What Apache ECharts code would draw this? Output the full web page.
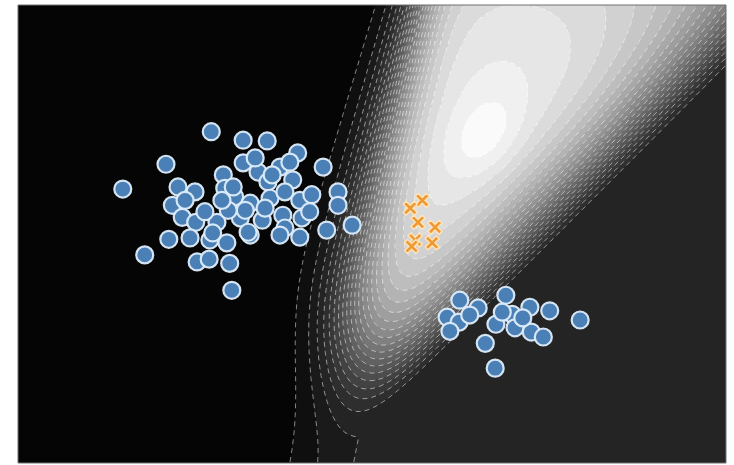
<!DOCTYPE html>
<html>
<head>
<meta charset="utf-8">
<script src="https://cdn.jsdelivr.net/npm/echarts@6/dist/echarts.min.js"></script>
<style>
  html, body { margin: 0; padding: 0; background: #fff; }
  #chart { width: 734px; height: 465px; }
</style>
</head>
<body>
<div id="chart"></div>
<script>
// ---- data --------------------------------------------------------------
// Plot extent (data units)
const xRange = [0, 10];
const yRange = [0, 6.47];

// Class 0, main cluster (left)
const clusterLeft = [
  [2.73,4.68],[3.18,4.56],[3.52,4.55],[2.09,4.22],[3.95,4.38],[3.18,4.24],
  [3.39,4.11],[3.70,4.18],[3.84,4.25],[4.31,4.18],[1.48,3.87],[2.26,3.90],
  [2.50,3.83],[2.90,4.07],[2.92,3.88],[3.06,3.76],[3.53,3.97],[3.88,4.00],
  [3.04,3.90],[2.18,3.64],[2.32,3.47],[2.51,3.40],[2.81,3.40],[3.28,3.67],
  [3.56,3.74],[3.77,3.83],[3.98,3.71],[4.15,3.79],[4.52,3.83],[4.52,3.64],
  [3.14,3.46],[3.45,3.43],[3.74,3.50],[4.01,3.46],[4.12,3.55],[3.77,3.32],
  [4.36,3.29],[4.72,3.36],[2.13,3.16],[2.43,3.18],[2.71,3.15],[2.95,3.11],
  [3.28,3.22],[3.70,3.22],[3.98,3.19],[1.79,2.94],[2.53,2.84],[2.70,2.88],
  [2.99,2.82],[3.02,2.44],[3.25,3.26],[2.75,3.25],[3.35,4.31],[3.59,4.07],
  [3.21,3.57],[3.49,3.60],[2.97,3.57],[2.64,3.55],[2.36,3.71],[2.88,3.71]
];

// Class 0, second cluster (lower right)
const clusterRight = [
  [6.24,2.30],[6.89,2.37],[6.50,2.19],[7.23,2.20],[7.51,2.15],[7.94,2.02],
  [6.06,2.06],[6.23,1.99],[6.10,1.86],[6.75,1.96],[6.98,2.10],[7.02,1.91],
  [7.25,1.85],[7.42,1.78],[6.60,1.69],[6.74,1.34],[7.13,2.05],[6.84,2.13],
  [6.38,2.09]
];

// Class 1 samples
const classOne = [
  [5.71,3.71],[5.54,3.60],[5.65,3.40],[5.89,3.33],[5.61,3.15],[5.85,3.11],
  [5.56,3.06]
];

// Contour levels of the score surface
const levels = [0, 0.04, 0.08, 0.12, 0.16, 0.20, 0.24, 0.28, 0.32, 0.36, 0.40,
  0.44, 0.48, 0.52, 0.56, 0.60, 0.64, 0.68, 0.72, 0.76, 0.80, 0.84, 0.88,
  0.92, 0.96, 1.0];

// Score surface: a ridge along the diagonal edge, a local peak, a left cut-off
const ridgeOrigin = [4.93, 0.47];        // point on the lower-right edge
const ridgeCenter = { t: 4.24, u: 1.77 };
const ridgeTail = 4.94;                  // decay beyond the peak, along the edge
const tongue = { t: 0.45, w: 0.4 };      // lower end of the ridge
const crossSpread = 4.0;
const edgeRise = { scale: 0.7, power: 1.4 };
const plateau = 0.14;
const ridgeHeight = 0.8;
const peak = { x: 6.6, y: 4.6, height: 0.07, along: 0.45, across: 0.32, angle: 60 };
const leftEdge = { x0: 4.157, slope: 0.229, w0: 0.325, wSlope: -0.0196 };

// ---- surface evaluation -------------------------------------------------
const peakCos = Math.cos(peak.angle * Math.PI / 180);
const peakSin = Math.sin(peak.angle * Math.PI / 180);

function score(x, y) {
  const dx = x - ridgeOrigin[0], dy = y - ridgeOrigin[1];
  const t = (dx + dy) * Math.SQRT1_2;
  const u = (dy - dx) * Math.SQRT1_2;
  let along = 1 / (1 + Math.exp(-(t - tongue.t) / tongue.w));
  if (t > ridgeCenter.t) along *= Math.exp(-0.5 * Math.pow((t - ridgeCenter.t) / ridgeTail, 2));
  const rise = u > 0 ? 1 - Math.exp(-Math.pow(u / edgeRise.scale, edgeRise.power)) : 0;
  const fall = u > ridgeCenter.u ? Math.exp(-0.5 * Math.pow((u - ridgeCenter.u) / crossSpread, 2)) : 1;
  const px = x - peak.x, py = y - peak.y;
  const pa = (px * peakCos + py * peakSin) / peak.along;
  const pc = (-px * peakSin + py * peakCos) / peak.across;
  const bump = peak.height * Math.exp(-0.5 * (pa * pa + pc * pc));
  const inner = plateau + ridgeHeight * along * rise * fall + bump;
  const xl = leftEdge.x0 + leftEdge.slope * y;
  const wl = leftEdge.w0 + leftEdge.wSlope * y;
  const left = 1 / (1 + Math.exp(-(x - xl) / wl));
  return inner * left;
}

const NX = 354, NY = 229;
const cellW = (xRange[1] - xRange[0]) / NX;
const cellH = (yRange[1] - yRange[0]) / NY;
const cx = i => xRange[0] + (i + 0.5) * cellW;
const cy = j => yRange[0] + (j + 0.5) * cellH;

const field = [];
for (let j = 0; j < NY; j++) {
  const row = [];
  for (let i = 0; i < NX; i++) row.push(score(cx(i), cy(j)));
  field.push(row);
}

const bandOf = v => {
  let k = 0;
  while (k < levels.length - 2 && v >= levels[k + 1]) k++;
  return k;
};

// Filled bands: one rectangle per run of equal band along each row
const fillData = [];
for (let j = 0; j < NY; j++) {
  let start = 0, cur = bandOf(field[j][0]);
  for (let i = 1; i <= NX; i++) {
    const b = i < NX ? bandOf(field[j][i]) : -1;
    if (b !== cur) {
      fillData.push([xRange[0] + start * cellW, xRange[0] + i * cellW,
        yRange[0] + j * cellH, yRange[0] + (j + 1) * cellH,
        (levels[cur] + levels[cur + 1]) / 2]);
      start = i; cur = b;
    }
  }
}

// ---- contour tracing (marching squares) ---------------------------------
const CASES = [[], [[3,0]], [[0,1]], [[3,1]], [[1,2]], [[3,0],[1,2]], [[0,2]], [[3,2]],
  [[2,3]], [[0,2]], [[0,1],[2,3]], [[1,2]], [[1,3]], [[0,1]], [[3,0]], []];

function traceLevel(lv) {
  const adj = new Map();
  const pos = new Map();
  const edgeKey = (i, j, e) => {
    let key;
    if (e === 0 || e === 2) {
      const jj = e === 0 ? j : j + 1;
      key = 'h' + i + '_' + jj;
      if (!pos.has(key)) {
        const a = field[jj][i], b = field[jj][i + 1];
        pos.set(key, [cx(i) + (lv - a) / (b - a) * cellW, cy(jj)]);
      }
    } else {
      const ii = e === 3 ? i : i + 1;
      key = 'v' + ii + '_' + j;
      if (!pos.has(key)) {
        const a = field[j][ii], b = field[j + 1][ii];
        pos.set(key, [cx(ii), cy(j) + (lv - a) / (b - a) * cellH]);
      }
    }
    return key;
  };
  const link = (a, b) => {
    if (!adj.has(a)) adj.set(a, []);
    if (!adj.has(b)) adj.set(b, []);
    adj.get(a).push(b);
    adj.get(b).push(a);
  };
  for (let j = 0; j < NY - 1; j++) {
    for (let i = 0; i < NX - 1; i++) {
      const c = (field[j][i] > lv ? 1 : 0) | (field[j][i + 1] > lv ? 2 : 0) |
                (field[j + 1][i + 1] > lv ? 4 : 0) | (field[j + 1][i] > lv ? 8 : 0);
      if (c === 0 || c === 15) continue;
      for (const [e1, e2] of CASES[c]) link(edgeKey(i, j, e1), edgeKey(i, j, e2));
    }
  }
  const seen = new Set();
  const out = [];
  const follow = start => {
    const pts = [pos.get(start)];
    seen.add(start);
    let cur = start;
    for (;;) {
      const nb = adj.get(cur);
      let nxt = null;
      for (const k of nb) if (!seen.has(k)) { nxt = k; break; }
      if (nxt === null) {
        if (pts.length > 2 && nb.includes(start)) pts.push(pos.get(start));
        break;
      }
      seen.add(nxt);
      pts.push(pos.get(nxt));
      cur = nxt;
    }
    return pts;
  };
  for (const [k, nb] of adj) if (nb.length === 1 && !seen.has(k)) out.push(follow(k));
  for (const k of adj.keys()) if (!seen.has(k)) out.push(follow(k));
  return out;
}

const contourData = [];
for (let k = 1; k < levels.length - 1; k++) {
  for (const pts of traceLevel(levels[k])) {
    if (pts.length > 1) contourData.push({ coords: pts });
  }
}

// Gray fill for each band between consecutive levels
const gray = v => {
  const g = Math.round(Math.max(0, Math.min(1, v)) * 255);
  return 'rgb(' + g + ',' + g + ',' + g + ')';
};
const pieces = [];
for (let k = 0; k < levels.length - 1; k++) {
  pieces.push({ gte: levels[k], lt: levels[k + 1], color: gray((levels[k] + levels[k + 1]) / 2) });
}

const crossPath = 'path://M2,0L5,3L8,0L10,2L7,5L10,8L8,10L5,7L2,10L0,8L3,5L0,2Z';

const chart = echarts.init(document.getElementById('chart'), null, { renderer: 'canvas' });
chart.setOption({
  animation: false,
  backgroundColor: '#ffffff',
  grid: {
    left: 18, top: 5, width: 708, height: 458,
    show: true, borderColor: '#707070', borderWidth: 1,
    backgroundColor: 'transparent', z: 10
  },
  xAxis: { type: 'value', min: xRange[0], max: xRange[1], show: false },
  yAxis: { type: 'value', min: yRange[0], max: yRange[1], show: false },
  visualMap: {
    type: 'piecewise',
    show: false,
    seriesIndex: 0,
    dimension: 4,
    pieces: pieces
  },
  series: [
    {
      type: 'custom',
      silent: true,
      progressive: 0,
      data: fillData,
      encode: { x: [0, 1], y: [2, 3] },
      renderItem: (params, api) => {
        const a = api.coord([api.value(0), api.value(3)]);
        const b = api.coord([api.value(1), api.value(2)]);
        const x = Math.round(a[0]), y = Math.round(a[1]);
        return {
          type: 'rect',
          shape: { x: x, y: y, width: Math.round(b[0]) - x, height: Math.round(b[1]) - y },
          style: { fill: api.visual('color') }
        };
      },
      z: 1
    },
    {
      type: 'lines',
      coordinateSystem: 'cartesian2d',
      polyline: true,
      silent: true,
      data: contourData,
      lineStyle: { color: 'rgba(255,255,255,0.5)', width: 1, type: [5, 4], opacity: 1 },
      z: 3
    },
    {
      type: 'scatter',
      data: clusterLeft.concat(clusterRight),
      symbol: 'circle',
      symbolSize: 17,
      itemStyle: { color: '#4a80b6', borderColor: 'rgba(222,236,250,0.95)', borderWidth: 2.2, opacity: 1 },
      z: 5
    },
    {
      type: 'scatter',
      data: classOne,
      symbol: crossPath,
      symbolSize: 14,
      itemStyle: { color: '#ee9a30', borderColor: '#ffe4bd', borderWidth: 1.4, opacity: 1 },
      z: 6
    }
  ]
});
</script>
</body>
</html>
